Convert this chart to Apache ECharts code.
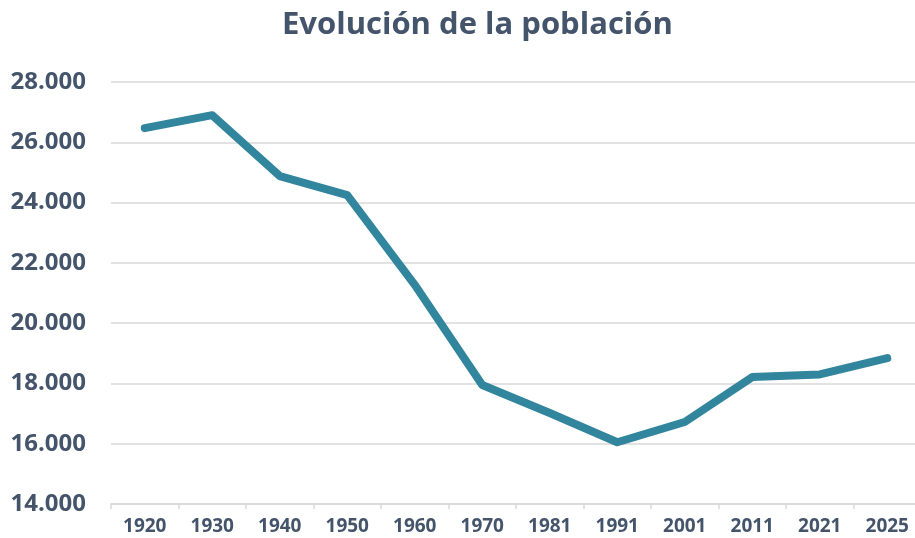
<!DOCTYPE html>
<html>
<head>
<meta charset="utf-8">
<script src="https://cdn.jsdelivr.net/npm/echarts@6/dist/echarts.min.js"></script>
<style>
  html, body { margin: 0; padding: 0; background: #fff; }
  #chart { width: 915px; height: 538px; }
</style>
</head>
<body>
<div id="chart"></div>
<script>
// datos
const years = ['1920', '1930', '1940', '1950', '1960', '1970', '1981', '1991', '2001', '2011', '2021', '2025']
const poblacion = [26470, 26900, 24880, 24250, 21270, 17950, 17020, 16050, 16720, 18210, 18300, 18840]
const yTicks = [14000, 16000, 18000, 20000, 22000, 24000, 26000, 28000]

const textColor = '#44546A'
const fmt = v => (v / 1000).toFixed(3)

const chart = echarts.init(document.getElementById('chart'))
chart.setOption({
  backgroundColor: '#ffffff',
  title: {
    text: 'Evolución de la población',
    left: 277,
    top: 5,
    textStyle: { fontFamily: 'Open Sans', fontWeight: 'bold', fontSize: 31, color: textColor }
  },
  grid: { left: 111, right: -6, top: 82, bottom: 34, outerBoundsMode: 'none' },
  xAxis: {
    type: 'category',
    data: years,
    boundaryGap: true,
    axisLine: { lineStyle: { color: '#d9d9d9', width: 1.5 } },
    axisTick: { show: true, length: 5, lineStyle: { color: '#d9d9d9', width: 1.5 } },
    axisLabel: { color: textColor, fontFamily: 'Open Sans', fontWeight: 'bold', fontSize: 19, margin: 13 }
  },
  yAxis: {
    type: 'value',
    min: yTicks[0],
    max: yTicks[yTicks.length - 1],
    interval: 2000,
    axisLine: { show: false },
    axisTick: { show: false },
    splitLine: { lineStyle: { color: '#d9d9d9', width: 1.5 } },
    axisLabel: {
      color: textColor, fontFamily: 'Open Sans', fontWeight: 'bold', fontSize: 24, margin: 25,
      formatter: fmt
    }
  },
  series: [
    {
      type: 'line',
      data: poblacion,
      showSymbol: false,
      lineStyle: { color: '#31859C', width: 8, cap: 'round', join: 'round' },
      itemStyle: { color: '#31859C' }
    }
  ]
})
</script>
</body>
</html>
